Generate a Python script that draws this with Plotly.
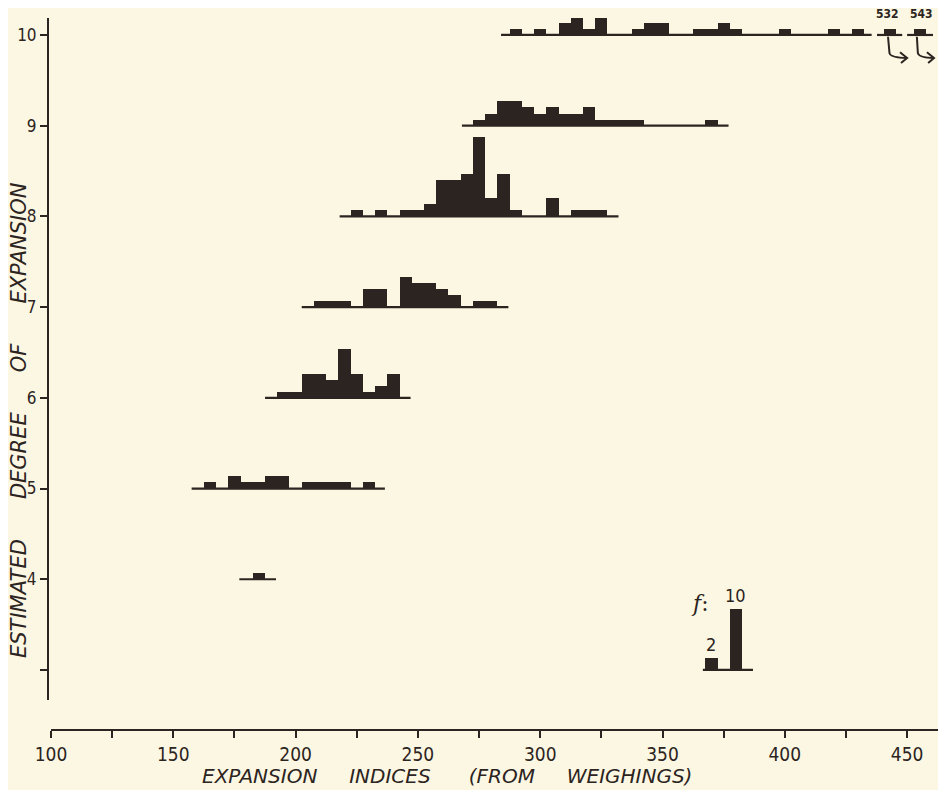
import plotly.graph_objects as go

# ---------------- data ----------------
# estimated degree of expansion (row baselines)
degrees = [10, 9, 8, 7, 6, 5, 4]

# bin centres (expansion index, bin width 5) and frequencies per row
row10_x = [290, 300, 310, 315, 320, 325, 340, 345, 350, 365, 370, 375, 380, 400, 420, 430, 443, 455.2]
row10_f = [1, 1, 2, 3, 1, 3, 1, 2, 2, 1, 1, 2, 1, 1, 1, 1, 1, 1]
row9_x = [275, 280, 285, 290, 295, 300, 305, 310, 315, 320, 325, 330, 335, 340, 370]
row9_f = [1, 2, 4, 4, 3, 2, 3, 2, 2, 3, 1, 1, 1, 1, 1]
row8_x = [225, 235, 245, 250, 255, 260, 265, 270, 275, 280, 285, 290, 305, 315, 320, 325]
row8_f = [1, 1, 1, 1, 2, 6, 6, 7, 13, 3, 7, 1, 3, 1, 1, 1]
row7_x = [210, 215, 220, 230, 235, 245, 250, 255, 260, 265, 275, 280]
row7_f = [1, 1, 1, 3, 3, 5, 4, 4, 3, 2, 1, 1]
row6_x = [195, 200, 205, 210, 215, 220, 225, 230, 235, 240]
row6_f = [1, 1, 4, 4, 3, 8, 4, 1, 2, 4]
row5_x = [165, 175, 180, 185, 190, 195, 205, 210, 215, 220, 230]
row5_f = [1, 2, 1, 1, 2, 2, 1, 1, 1, 1, 1]
row4_x = [185]
row4_f = [1]

# baseline extents of each row (expansion index)
row10_lines = [(284, 435.5), (437.7, 448), (450, 460.6)]
row9_lines = [(268, 377)]
row8_lines = [(218, 332)]
row7_lines = [(202.5, 287)]
row6_lines = [(187.5, 247)]
row5_lines = [(157.5, 236.5)]
row4_lines = [(177, 192)]

# off-scale values shown at the right of row 10
offscale_labels = ["532", "543"]
offscale_pos = [441.8, 455.7]

# frequency scale key
key_x = [370, 380]
key_f = [2, 10]
key_base = 3
key_line = (366.5, 387)

# axis ticks
x_ticks = list(range(100, 475, 25))
x_ticktext = [str(v) if v % 50 == 0 else "" for v in x_ticks]
y_ticks = [3, 4, 5, 6, 7, 8, 9, 10]
y_ticktext = ["", "4", "5", "6", "7", "8", "9", "10"]

# ---------------- style ----------------
BG = "#fcf7e3"
INK = "#2c2421"
UNIT = 0.067          # height of one frequency count in degree units
BIN_W = 5
FONT = "DejaVu Sans Condensed, DejaVu Sans, sans-serif"
TFONT = "DejaVu Sans, sans-serif"

# page geometry (the page body adds an 8px offset)
L, T, W_PLOT, H_PLOT = 40, 10, 898, 712
PAGE_LEFT = 8 + L
PAGE_BOTTOM = 8 + T + H_PLOT


def px_to_paper(px, py):
    return (px - PAGE_LEFT) / W_PLOT, (PAGE_BOTTOM - py) / H_PLOT


rows = [
    (10, row10_x, row10_f, row10_lines),
    (9, row9_x, row9_f, row9_lines),
    (8, row8_x, row8_f, row8_lines),
    (7, row7_x, row7_f, row7_lines),
    (6, row6_x, row6_f, row6_lines),
    (5, row5_x, row5_f, row5_lines),
    (4, row4_x, row4_f, row4_lines),
]

fig = go.Figure()

for deg, xs, fs, lines in rows:
    for (a, b) in lines:
        fig.add_trace(go.Scatter(x=[a, b], y=[deg, deg], mode="lines",
                                 line=dict(color=INK, width=2.2),
                                 hoverinfo="skip", showlegend=False))
    fig.add_trace(go.Bar(x=xs, y=[f * UNIT for f in fs], base=deg,
                         width=BIN_W, marker=dict(color=INK, line=dict(width=0)),
                         showlegend=False, customdata=fs,
                         hovertemplate="index %{x}<br>f=%{customdata}<extra></extra>"))

# key
fig.add_trace(go.Scatter(x=list(key_line), y=[key_base, key_base], mode="lines",
                         line=dict(color=INK, width=2.2), hoverinfo="skip", showlegend=False))
fig.add_trace(go.Bar(x=key_x, y=[f * UNIT for f in key_f], base=key_base, width=BIN_W,
                     marker=dict(color=INK, line=dict(width=0)), showlegend=False))

annotations = []
for xv, fv in zip(key_x, key_f):
    annotations.append(dict(x=xv, y=key_base + fv * UNIT, xref="x", yref="y",
                            text=str(fv), showarrow=False, yanchor="bottom", yshift=1,
                            font=dict(family=FONT, size=18, color=INK)))
annotations.append(dict(x=365.3, y=3.73, xref="x", yref="y",
                        text="<i>f</i>:", showarrow=False, yanchor="middle", xanchor="center",
                        font=dict(family="DejaVu Serif, serif", size=22, color=INK)))
lab_y = px_to_paper(0, 14)[1]
for lab, xv in zip(offscale_labels, offscale_pos):
    annotations.append(dict(x=xv, y=lab_y, xref="x", yref="paper", text="<b>" + lab + "</b>",
                            showarrow=False, xanchor="center", yanchor="middle",
                            font=dict(family=FONT, size=12, color=INK)))

# axis titles
sp = "&nbsp;" * 5
tx, ty = px_to_paper(447, 776)
annotations.append(dict(x=tx, y=ty, xref="paper", yref="paper",
                        xanchor="center", yanchor="middle",
                        text="<i>EXPANSION" + sp + "INDICES" + sp + "&nbsp;(FROM" + sp + "WEIGHINGS)</i>",
                        showarrow=False, font=dict(family=TFONT, size=20, color=INK)))
sp6 = "&nbsp;" * 6
yx, yy = px_to_paper(19, 420)
annotations.append(dict(x=yx, y=yy, xref="paper", yref="paper",
                        xanchor="center", yanchor="middle",
                        text="<i>ESTIMATED" + sp6 + "DEGREE" + sp6 + "OF" + sp6 + "EXPANSION</i>",
                        textangle=-90, showarrow=False,
                        font=dict(family=TFONT, size=21, color=INK)))

# curved arrows under the off-scale values
shapes = [
    dict(type="path", xref="x", yref="y",
         path="M 442.2,9.98 L 442.8,9.80 Q 443.2,9.75 450,9.746",
         line=dict(color=INK, width=2)),
    dict(type="path", xref="x", yref="y",
         path="M 447.1,9.81 L 450,9.746 L 447.5,9.69",
         line=dict(color=INK, width=2)),
    dict(type="path", xref="x", yref="y",
         path="M 454.0,9.98 L 454.4,9.80 Q 454.8,9.75 461,9.746",
         line=dict(color=INK, width=2)),
    dict(type="path", xref="x", yref="y",
         path="M 458.1,9.81 L 461,9.746 L 458.6,9.69",
         line=dict(color=INK, width=2)),
]

fig.update_layout(
    width=938, height=782,
    margin=dict(l=L, r=0, t=T, b=782 - T - H_PLOT, pad=0),
    paper_bgcolor=BG, plot_bgcolor=BG,
    barmode="overlay", bargap=0,
    showlegend=False,
    annotations=annotations,
    shapes=shapes,
    xaxis=dict(domain=[3 / W_PLOT, 1], range=[100, 100 + (W_PLOT - 3) / 2.446],
               anchor="free", position=0,
               showgrid=False, zeroline=False, showline=True, linecolor=INK, linewidth=2,
               ticks="outside", ticklen=7, tickwidth=1.5, tickcolor=INK,
               tickvals=x_ticks, ticktext=x_ticktext,
               tickfont=dict(family=FONT, size=19, color=INK)),
    yaxis=dict(domain=[30 / H_PLOT, 1], range=[2.669, 10.187], anchor="free", position=0,
               showgrid=False, zeroline=False, showline=True, linecolor=INK, linewidth=2,
               ticks="outside", ticklen=7, tickwidth=1.5, tickcolor=INK,
               tickvals=y_ticks, ticktext=y_ticktext,
               tickfont=dict(family=FONT, size=17, color=INK)),
)

fig.write_html("out.html")
